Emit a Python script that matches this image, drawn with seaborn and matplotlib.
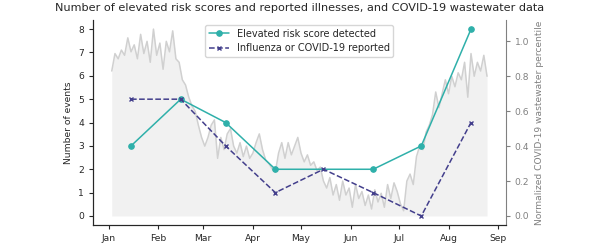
import pandas as pd
import seaborn as sns
import matplotlib.pyplot as plt
import matplotlib.dates as mdates

# monthly counts (mid-month)
risk_dates = ['2023-01-15', '2023-02-15', '2023-03-15', '2023-04-15', '2023-06-15', '2023-07-15', '2023-08-15']
risk_counts = [3, 5, 4, 2, 2, 3, 8]

ill_dates = ['2023-01-15', '2023-02-15', '2023-03-15', '2023-04-15', '2023-05-15', '2023-06-15', '2023-07-15', '2023-08-15']
ill_counts = [5, 5, 3, 1, 2, 1, 0, 4]

# wastewater percentile, read every 2 days from 2023-01-03
ww_start = '2023-01-03'
ww_values = [
    0.83, 0.93, 0.90, 0.95, 0.92, 1.02, 0.94, 0.98, 0.90, 1.04,
    0.93, 1.00, 0.88, 1.07, 0.92, 0.99, 0.84, 1.00, 0.94, 1.06,
    0.90, 0.88, 0.78, 0.75, 0.68, 0.63, 0.60, 0.52, 0.45, 0.40,
    0.45, 0.52, 0.55, 0.33, 0.45, 0.38, 0.47, 0.50, 0.40, 0.36,
    0.42, 0.34, 0.40, 0.33, 0.36, 0.42, 0.47, 0.38, 0.32, 0.30,
    0.27, 0.25, 0.36, 0.42, 0.33, 0.42, 0.35, 0.40, 0.45, 0.36,
    0.31, 0.35, 0.29, 0.31, 0.26, 0.28, 0.20, 0.16, 0.22, 0.12,
    0.18, 0.09, 0.20, 0.12, 0.16, 0.05, 0.18, 0.10, 0.14, 0.06,
    0.12, 0.04, 0.15, 0.08, 0.13, 0.05, 0.18, 0.10, 0.19, 0.14,
    0.07, 0.03, 0.20, 0.24, 0.18, 0.34, 0.40, 0.38, 0.48, 0.52,
    0.58, 0.71, 0.62, 0.70, 0.78, 0.70, 0.80, 0.74, 0.82, 0.78,
    0.88, 0.68, 0.93, 0.80, 0.88, 0.83, 0.92, 0.80,
]

risk = pd.DataFrame({'date': pd.to_datetime(risk_dates), 'count': risk_counts})
ill = pd.DataFrame({'date': pd.to_datetime(ill_dates), 'count': ill_counts})
ww = pd.DataFrame({'date': pd.date_range(ww_start, periods=len(ww_values), freq='2D'),
                   'value': ww_values})

sns.set_style('ticks')

fig = plt.figure(figsize=(6, 2.44), dpi=100)
ax = fig.add_axes([0.155, 0.0765, 0.688, 0.8425])
ax2 = ax.twinx()
# counts drawn above the wastewater area
ax.set_zorder(ax2.get_zorder() + 1)
ax.patch.set_visible(False)

teal = '#2fb0aa'
purple = '#433f8c'

sns.lineplot(data=risk, x='date', y='count', ax=ax, color=teal, marker='o',
             markersize=4, markeredgecolor=teal, linewidth=1.1,
             label='Elevated risk score detected')
sns.lineplot(data=ill, x='date', y='count', ax=ax, color=purple, marker='x',
             markersize=3.5, markeredgecolor=purple, markeredgewidth=1,
             linestyle='--', linewidth=1.1, label='Influenza or COVID-19 reported')

sns.lineplot(data=ww, x='date', y='value', ax=ax2, color='#d0d0d0', linewidth=1.1)
ax2.fill_between(ww['date'], ww['value'], color='#f1f1f1', linewidth=0)

ax.set_ylabel('Number of events', fontsize=6.6)
ax.set_xlabel('')
ax.tick_params(labelsize=6.6, length=3)
ax.set_yticks(range(0, 9))
ax.xaxis.set_major_locator(mdates.MonthLocator())
ax.xaxis.set_major_formatter(mdates.DateFormatter('%b'))

ax2.set_ylabel('Normalized COVID-19 wastewater percentile', fontsize=6.6, color='grey')
ax2.set_xlabel('')
ax2.tick_params(labelsize=6.6, colors='grey', length=3)
ax2.spines['right'].set_color('grey')
ax2.spines['top'].set_visible(False)
ax.spines['top'].set_visible(False)
ax.spines['right'].set_visible(False)

ax.legend(loc='upper center', fontsize=7, frameon=True)
ax.set_title('Number of elevated risk scores and reported illnesses, and COVID-19 wastewater data',
             fontsize=8.1)

fig.savefig('out.png', dpi=100)
